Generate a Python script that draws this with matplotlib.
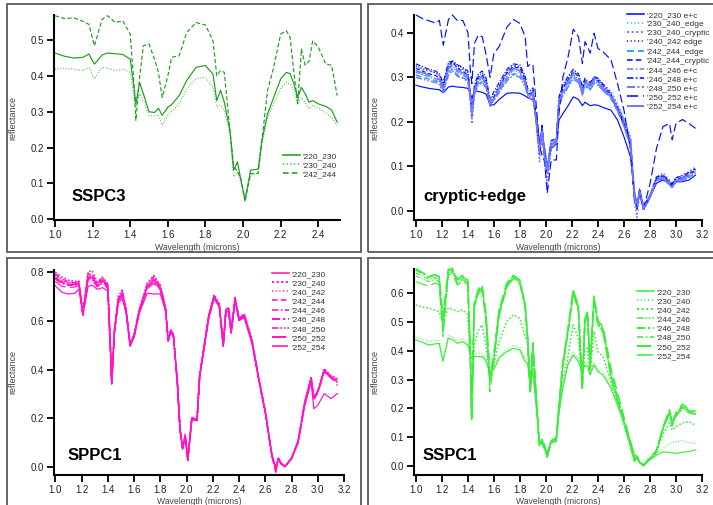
"""
plot.py -- four-panel reflectance spectra (SSPC3, cryptic+edge, SPPC1, SSPC1).
"""

import matplotlib
matplotlib.use("Agg")  # no display
import matplotlib.pyplot as plt
from matplotlib.lines import Line2D
from matplotlib.patches import Rectangle

plt.rcParams["font.family"] = ["Liberation Sans", "DejaVu Sans"]

# ---------------------------------------------------------------------------
# Data
# ---------------------------------------------------------------------------

# wavelength grid for the SSPC3 panel (1.0 - 2.5 microns)
wl_short = [
    1.00, 1.05, 1.10, 1.15, 1.18, 1.21, 1.25, 1.28, 1.32, 1.36,
    1.40, 1.42, 1.43, 1.45, 1.47, 1.50, 1.53, 1.55, 1.57, 1.60,
    1.62, 1.66, 1.70, 1.75, 1.80, 1.84, 1.86, 1.88, 1.90, 1.93,
    1.95, 1.97, 1.99, 2.01, 2.04, 2.08, 2.10, 2.13, 2.16, 2.20,
    2.23, 2.25, 2.27, 2.29, 2.31, 2.33, 2.35, 2.37, 2.40, 2.44,
    2.47, 2.50,
]

sspc3_220_230 = [
    .464, .455, .450, .452, .461, .433, .458, .464, .462, .460,
    .447, .368, .322, .382, .350, .300, .298, .310, .290, .313,
    .320, .345, .387, .424, .429, .405, .331, .360, .327, .248,
    .137, .160, .105, .054, .137, .140, .220, .294, .336, .392,
    .410, .406, .378, .340, .368, .350, .327, .331, .322, .315,
    .305, .271,
]
sspc3_230_240 = [
    .419, .421, .419, .415, .424, .392, .424, .422, .415, .419,
    .410, .340, .313, .350, .330, .290, .288, .292, .262, .290,
    .300, .322, .364, .392, .396, .370, .313, .318, .304, .239,
    .118, .132, .100, .063, .123, .128, .211, .285, .320, .364,
    .382, .378, .360, .322, .340, .325, .308, .318, .310, .296,
    .285, .262,
]
sspc3_242_244 = [
    .568, .560, .562, .552, .544, .484, .558, .568, .549, .554,
    .517, .378, .276, .396, .484, .489, .445, .410, .340, .400,
    .452, .456, .521, .549, .542, .498, .400, .415, .410, .250,
    .146, .135, .110, .049, .128, .128, .220, .360, .419, .517,
    .526, .507, .410, .322, .475, .430, .440, .498, .480, .433,
    .430, .345,
]

# wavelength grid for the three long panels (1.0 - 3.15 microns)
wl_long = [
    1.00, 1.05, 1.10, 1.15, 1.18, 1.21, 1.25, 1.28, 1.32, 1.36,
    1.40, 1.42, 1.43, 1.45, 1.48, 1.51, 1.54, 1.57, 1.60, 1.64,
    1.70, 1.75, 1.80, 1.84, 1.86, 1.88, 1.90, 1.93, 1.95, 1.97,
    1.99, 2.01, 2.04, 2.08, 2.10, 2.13, 2.17, 2.21, 2.25, 2.28,
    2.30, 2.32, 2.34, 2.37, 2.40, 2.44, 2.50, 2.55, 2.60, 2.65,
    2.68, 2.70, 2.72, 2.75, 2.80, 2.85, 2.90, 2.95, 2.97, 3.00,
    3.05, 3.10, 3.15,
]

# --- cryptic+edge ---
ce_220_230 = [
    .282, .278, .275, .273, .272, .265, .278, .280, .278, .277,
    .275, .262, .252, .270, .268, .266, .262, .238, .238, .250,
    .264, .265, .264, .258, .254, .252, .249, .205, .152, .150,
    .140, .099, .140, .150, .204, .218, .236, .256, .250, .236,
    .244, .240, .236, .238, .237, .232, .226, .204, .166, .121,
    .040, .015, .040, .003, .030, .062, .069, .061, .058, .065,
    .065, .069, .080,
]
ce_230_240_edge = [
    .310, .305, .300, .295, .290, .272, .315, .324, .310, .305,
    .296, .255, .230, .268, .290, .296, .280, .242, .252, .270,
    .300, .314, .310, .287, .265, .258, .262, .195, .140, .180,
    .125, .095, .150, .152, .240, .266, .286, .305, .296, .268,
    .286, .281, .277, .291, .287, .273, .256, .228, .195, .150,
    .035, .010, .042, .006, .032, .068, .072, .058, .054, .066,
    .070, .078, .085,
]
ce_230_240_cryptic = [
    .325, .318, .314, .310, .305, .282, .325, .333, .320, .318,
    .305, .240, .195, .265, .298, .304, .288, .232, .250, .278,
    .312, .326, .322, .298, .262, .255, .268, .180, .110, .175,
    .105, .060, .140, .150, .250, .278, .296, .302, .292, .262,
    .285, .282, .285, .298, .295, .285, .268, .240, .205, .160,
    .020, -.015, .040, .000, .028, .075, .085, .068, .060, .075,
    .080, .088, .098,
]
ce_240_242_edge = [
    .325, .320, .316, .310, .304, .283, .330, .338, .325, .320,
    .310, .255, .220, .278, .303, .310, .293, .245, .262, .283,
    .314, .328, .324, .298, .270, .266, .272, .195, .135, .190,
    .122, .090, .155, .160, .252, .278, .298, .315, .305, .275,
    .296, .290, .285, .300, .296, .282, .262, .232, .198, .152,
    .032, .008, .048, .008, .033, .074, .079, .064, .058, .071,
    .075, .084, .092,
]
ce_242_244_edge = [
    .305, .300, .296, .292, .288, .270, .310, .318, .305, .300,
    .292, .255, .228, .265, .285, .290, .278, .245, .250, .268,
    .296, .308, .305, .283, .262, .256, .260, .192, .140, .185,
    .128, .100, .155, .158, .238, .262, .282, .300, .292, .266,
    .282, .278, .274, .288, .284, .270, .252, .224, .192, .150,
    .040, .012, .044, .008, .034, .068, .072, .058, .054, .064,
    .068, .076, .084,
]
ce_242_244_cryptic = [
    .320, .314, .308, .304, .298, .278, .325, .335, .320, .314,
    .304, .250, .212, .272, .300, .305, .290, .238, .256, .278,
    .310, .324, .320, .294, .266, .262, .268, .188, .128, .188,
    .118, .082, .148, .156, .248, .274, .294, .312, .302, .272,
    .292, .287, .282, .297, .292, .278, .258, .228, .192, .146,
    .028, .004, .046, .004, .030, .072, .078, .062, .056, .070,
    .074, .082, .090,
]
ce_244_246 = [
    .312, .306, .302, .297, .292, .272, .316, .326, .312, .306,
    .297, .248, .212, .268, .292, .297, .282, .238, .252, .272,
    .302, .317, .312, .287, .262, .258, .262, .186, .128, .182,
    .118, .082, .146, .152, .242, .266, .286, .306, .296, .258,
    .288, .283, .278, .292, .288, .276, .260, .232, .198, .150,
    .028, .002, .044, .004, .029, .069, .074, .059, .054, .067,
    .071, .079, .087,
]
ce_246_248 = [
    .330, .324, .318, .314, .308, .288, .334, .336, .328, .322,
    .314, .258, .222, .282, .308, .314, .298, .250, .268, .288,
    .318, .330, .328, .302, .274, .270, .276, .198, .138, .192,
    .125, .092, .158, .162, .256, .282, .302, .318, .308, .280,
    .298, .292, .288, .302, .298, .284, .262, .232, .196, .150,
    .034, .010, .050, .010, .035, .076, .080, .066, .060, .074,
    .078, .086, .094,
]
ce_248_250 = [
    .300, .296, .292, .288, .284, .266, .305, .315, .302, .298,
    .290, .252, .225, .262, .282, .288, .276, .242, .248, .266,
    .292, .305, .300, .280, .258, .252, .258, .188, .135, .178,
    .122, .092, .150, .152, .235, .258, .278, .296, .288, .262,
    .280, .276, .272, .286, .282, .270, .258, .235, .205, .165,
    .045, .015, .042, .010, .035, .068, .072, .058, .052, .064,
    .068, .075, .082,
]
ce_250_252 = [
    .440, .432, .427, .422, .428, .372, .430, .440, .427, .428,
    .400, .310, .286, .376, .395, .391, .350, .300, .354, .369,
    .413, .430, .421, .391, .324, .330, .327, .219, .144, .125,
    .110, .039, .114, .114, .219, .300, .346, .408, .391, .331,
    .380, .369, .354, .399, .365, .357, .339, .286, .226, .136,
    .024, .009, .039, .005, .060, .140, .189, .196, .159, .196,
    .205, .196, .185,
]
ce_252_254 = [
    .315, .310, .305, .300, .295, .275, .320, .330, .315, .310,
    .300, .250, .215, .270, .295, .300, .285, .240, .255, .275,
    .305, .320, .315, .290, .265, .260, .265, .190, .130, .185,
    .120, .085, .150, .155, .245, .270, .290, .310, .300, .270,
    .290, .285, .280, .295, .290, .275, .255, .225, .190, .145,
    .030, .005, .045, .005, .030, .070, .075, .060, .055, .068,
    .072, .080, .088,
]

# --- SPPC1 ---
sppc1_220_230 = [
    .743, .716, .709, .712, .730, .620, .740, .745, .728, .735,
    .722, .480, .345, .550, .672, .690, .630, .500, .530, .630,
    .712, .709, .709, .640, .515, .555, .535, .345, .155, .080,
    .125, .035, .195, .190, .370, .470, .610, .690, .655, .495,
    .632, .640, .548, .680, .600, .612, .505, .360, .225, .055,
    .000, .035, .018, .004, .036, .100, .250, .349, .240, .254,
    .302, .281, .302,
]
sppc1_230_240 = [
    .798, .780, .765, .760, .762, .635, .800, .805, .758, .778,
    .750, .490, .345, .560, .700, .725, .648, .505, .545, .648,
    .752, .785, .745, .655, .525, .565, .545, .352, .160, .078,
    .135, .032, .205, .198, .380, .485, .625, .705, .668, .505,
    .648, .655, .558, .695, .612, .628, .520, .368, .232, .052,
    -.010, .040, .018, .003, .038, .108, .265, .370, .285, .315,
    .405, .375, .365,
]
sppc1_240_242 = [
    .785, .765, .752, .752, .755, .625, .780, .772, .748, .765,
    .740, .482, .340, .552, .688, .712, .636, .498, .536, .638,
    .740, .770, .730, .648, .518, .558, .538, .348, .158, .076,
    .128, .030, .198, .192, .374, .478, .618, .698, .660, .498,
    .640, .646, .552, .686, .604, .618, .510, .362, .228, .048,
    -.015, .036, .016, .002, .036, .104, .262, .362, .282, .308,
    .398, .372, .360,
]
sppc1_242_244 = [
    .778, .760, .748, .750, .750, .622, .790, .785, .745, .762,
    .738, .486, .344, .556, .685, .708, .640, .502, .540, .642,
    .738, .765, .735, .650, .520, .560, .540, .350, .160, .079,
    .132, .032, .202, .195, .378, .482, .622, .702, .664, .500,
    .644, .650, .556, .692, .608, .624, .514, .364, .226, .050,
    -.006, .038, .016, .004, .038, .106, .264, .366, .284, .312,
    .400, .368, .358,
]
sppc1_244_246 = [
    .792, .772, .758, .755, .758, .630, .795, .780, .752, .772,
    .745, .484, .340, .552, .690, .718, .642, .500, .538, .640,
    .745, .778, .740, .652, .520, .560, .540, .348, .158, .075,
    .128, .028, .200, .194, .376, .480, .620, .700, .662, .498,
    .642, .648, .552, .688, .606, .620, .512, .362, .226, .048,
    -.012, .036, .014, .002, .036, .104, .262, .364, .280, .306,
    .396, .368, .362,
]
sppc1_246_248 = [
    .770, .752, .745, .745, .748, .624, .775, .770, .742, .760,
    .735, .480, .342, .550, .682, .705, .634, .496, .534, .636,
    .736, .760, .728, .646, .516, .556, .536, .346, .156, .077,
    .126, .030, .198, .192, .372, .476, .616, .696, .658, .496,
    .638, .644, .550, .684, .602, .616, .508, .360, .226, .050,
    -.008, .037, .016, .003, .037, .103, .258, .360, .278, .305,
    .392, .366, .352,
]
sppc1_248_250 = [
    .788, .768, .755, .756, .760, .632, .792, .790, .755, .776,
    .748, .488, .346, .558, .695, .722, .645, .504, .542, .645,
    .748, .782, .742, .654, .522, .562, .542, .350, .160, .078,
    .130, .031, .204, .196, .378, .484, .624, .704, .666, .502,
    .646, .652, .556, .694, .610, .626, .516, .366, .230, .052,
    -.005, .039, .017, .004, .038, .106, .266, .368, .286, .312,
    .400, .374, .345,
]
sppc1_250_252 = [
    .775, .756, .748, .748, .752, .626, .782, .776, .746, .765,
    .740, .484, .342, .554, .686, .710, .638, .500, .538, .640,
    .740, .768, .732, .648, .518, .558, .538, .348, .158, .076,
    .128, .030, .200, .194, .374, .480, .620, .700, .662, .498,
    .640, .646, .552, .688, .606, .620, .512, .362, .228, .050,
    -.020, .036, .015, .003, .036, .104, .262, .364, .282, .310,
    .398, .370, .335,
]
sppc1_252_254 = [
    .760, .740, .735, .738, .745, .622, .770, .765, .738, .755,
    .732, .482, .344, .552, .680, .700, .632, .498, .534, .636,
    .730, .752, .725, .645, .516, .556, .536, .346, .156, .078,
    .128, .032, .198, .192, .372, .476, .616, .696, .658, .496,
    .638, .644, .550, .684, .602, .616, .508, .360, .226, .050,
    -.004, .037, .016, .003, .036, .102, .258, .360, .280, .306,
    .394, .365, .350,
]

# --- SSPC1 ---
sspc1_220_230 = [
    .438, .430, .420, .424, .426, .363, .444, .440, .426, .432,
    .420, .386, .375, .380, .380, .380, .365, .322, .334, .375,
    .397, .409, .403, .363, .355, .281, .328, .189, .085, .078,
    .058, .050, .082, .085, .180, .270, .351, .386, .363, .328,
    .351, .345, .316, .351, .328, .316, .270, .212, .154, .085,
    .040, .032, .014, .003, .021, .038, .050, .047, .046, .044,
    .048, .050, .056,
]
sspc1_230_240 = [
    .449, .440, .432, .436, .436, .370, .452, .450, .436, .442,
    .430, .392, .370, .392, .392, .392, .375, .330, .345, .380,
    .405, .418, .412, .372, .365, .290, .338, .195, .088, .082,
    .062, .048, .085, .090, .185, .280, .360, .395, .372, .335,
    .360, .356, .322, .360, .336, .325, .280, .220, .160, .090,
    .040, .035, .018, .004, .024, .042, .060, .078, .082, .085,
    .088, .082, .079,
]
sspc1_240_242 = [
    .559, .552, .548, .540, .536, .502, .548, .545, .536, .542,
    .525, .360, .177, .420, .470, .490, .420, .316, .351, .430,
    .502, .525, .513, .450, .432, .258, .386, .200, .085, .080,
    .060, .038, .080, .085, .190, .293, .380, .490, .444, .293,
    .400, .409, .316, .467, .397, .380, .293, .220, .142, .068,
    .020, .030, .012, .001, .025, .048, .110, .150, .125, .137,
    .150, .154, .142,
]
sspc1_244_246 = [
    .660, .650, .640, .648, .640, .470, .670, .678, .632, .648,
    .635, .380, .165, .555, .600, .615, .512, .290, .368, .525,
    .625, .655, .636, .556, .440, .255, .415, .208, .072, .088,
    .068, .030, .082, .094, .196, .345, .465, .600, .545, .268,
    .498, .526, .335, .578, .492, .466, .312, .232, .150, .070,
    .018, .030, .013, .000, .026, .050, .128, .186, .140, .175,
    .204, .188, .180,
]
sspc1_246_248 = [
    .680, .668, .656, .662, .655, .505, .678, .683, .645, .658,
    .642, .390, .170, .562, .608, .624, .524, .305, .378, .534,
    .632, .660, .642, .562, .446, .262, .422, .214, .074, .091,
    .071, .033, .086, .097, .202, .354, .472, .608, .552, .272,
    .505, .534, .342, .586, .500, .474, .320, .240, .158, .076,
    .022, .033, .016, .002, .028, .052, .132, .192, .145, .180,
    .210, .192, .186,
]
sspc1_248_250 = [
    .670, .660, .648, .655, .648, .480, .672, .680, .638, .652,
    .638, .384, .164, .556, .604, .618, .516, .296, .372, .528,
    .627, .656, .638, .558, .442, .258, .418, .210, .072, .089,
    .069, .031, .084, .095, .198, .349, .468, .604, .548, .270,
    .500, .529, .337, .581, .494, .468, .314, .234, .152, .072,
    .020, .031, .014, .001, .027, .049, .129, .188, .142, .176,
    .205, .190, .182,
]
sspc1_250_252 = [
    .685, .672, .660, .664, .658, .515, .682, .686, .648, .662,
    .646, .395, .175, .566, .612, .628, .530, .315, .384, .540,
    .635, .662, .646, .565, .450, .266, .428, .218, .076, .092,
    .072, .034, .088, .098, .205, .358, .476, .612, .556, .276,
    .508, .538, .346, .590, .505, .482, .340, .255, .170, .085,
    .025, .035, .018, .003, .030, .054, .135, .195, .150, .185,
    .215, .195, .190,
]
sspc1_252_254 = [
    .640, .632, .625, .635, .630, .450, .660, .672, .628, .642,
    .630, .375, .160, .550, .596, .610, .505, .258, .360, .518,
    .620, .650, .632, .552, .436, .250, .410, .205, .070, .086,
    .066, .028, .080, .092, .194, .340, .460, .596, .540, .265,
    .494, .522, .330, .574, .488, .462, .308, .228, .148, .068,
    .016, .028, .012, .000, .024, .048, .126, .182, .138, .172,
    .200, .185, .178,
]

# ---------------------------------------------------------------------------
# Styles
# ---------------------------------------------------------------------------

DOT = (0, (1, 1.3))
FINEDOT = (0, (0.7, 1.6))
DASH = (0, (3.5, 2))
DASHDOT = (0, (4, 1.5, 1, 1.5))
DASHDOTDOT = (0, (4, 1.2, 1, 1.2, 1, 1.2))
LONGDASH = (0, (7, 3))
VLONGDASH = (0, (10, 4))

GREEN = "#1e9e1e"
BLUE = "#0010ff"
CYAN = "#2fa8ff"
LAV = "#7878ff"
MAGENTA = "#ff12c8"
LIME = "#3cec3c"

THIN, THICK = 0.85, 1.15

W_PX, H_PX = 713, 505
fig = plt.figure(figsize=(W_PX / 100, H_PX / 100), dpi=100)


def px_axes(left, top, right, bottom):
    """Add axes from pixel box (origin top-left)."""
    return fig.add_axes([left / W_PX, 1 - bottom / H_PX,
                         (right - left) / W_PX, (bottom - top) / H_PX])


def style_axes(ax, xlim, ylim, xticks, yticks, ylab_x, xlab_y):
    ax.set_xlim(*xlim)
    ax.set_ylim(*ylim)
    ax.set_xticks(xticks)
    ax.set_yticks(yticks)
    ax.set_xticklabels([f"{t:.1f}" for t in xticks])
    ax.set_yticklabels([f"{t:.1f}" for t in yticks])
    for side in ("top", "right"):
        ax.spines[side].set_visible(False)
    for side in ("left", "bottom"):
        ax.spines[side].set_linewidth(1.5)
    ax.tick_params(direction="out", length=5, width=1.3, labelsize=7,
                   labelcolor="#222222", pad=2)
    ax.patch.set_alpha(0)
    pos = ax.get_position()
    fig.text(pos.x0 + pos.width / 2, 1 - xlab_y / H_PX, "Wavelength (microns)",
             ha="center", va="center", fontsize=6.2, color="#444444")
    fig.text(ylab_x / W_PX, pos.y0 + pos.height / 2, "reflectance",
             rotation=90, ha="center", va="center", fontsize=6.5, color="#444444")


def draw(ax, x, series, labels, styles, legend_xy):
    handles = []
    for y, lab, (col, ls, lw) in zip(series, labels, styles):
        ax.plot(x, y, color=col, linestyle=ls, linewidth=lw, clip_on=False)
        handles.append(Line2D([], [], color=col, linestyle=ls, linewidth=lw + 0.3))
    fig.legend(handles, labels, loc="upper left",
               bbox_to_anchor=(legend_xy[0] / W_PX, 1 - legend_xy[1] / H_PX),
               frameon=False, fontsize=6, handlelength=2.0, handletextpad=0.35,
               labelspacing=0.16, borderpad=0, borderaxespad=0,
               labelcolor="#333333")


def frame(x0, y0, x1, y1):
    fig.add_artist(Rectangle((x0 / W_PX, 1 - y1 / H_PX), (x1 - x0) / W_PX,
                             (y1 - y0) / H_PX, transform=fig.transFigure,
                             fill=False, edgecolor="#5a5a5a", linewidth=1.3))


frame(7, 4, 361, 252)
frame(368, 4, 725, 252)
frame(7, 258, 361, 520)
frame(368, 258, 725, 520)

long_xticks = [1.0, 1.2, 1.4, 1.6, 1.8, 2.0, 2.2, 2.4, 2.6, 2.8, 3.0, 3.2]

# --- SSPC3 (top left) ---
ax1 = px_axes(54, 15, 340, 220)
draw(ax1, wl_short,
     [sspc3_220_230, sspc3_230_240, sspc3_242_244],
     ["'220_230", "'230_240", "'242_244"],
     [(GREEN, "-", THIN), ("#3cb43c", FINEDOT, THIN), (GREEN, DASH, THIN)],
     (283, 152))
style_axes(ax1, (0.995, 2.515), (-0.002, 0.57),
           [1.0, 1.2, 1.4, 1.6, 1.8, 2.0, 2.2, 2.4],
           [0.0, 0.1, 0.2, 0.3, 0.4, 0.5], 13, 247)
fig.text(72 / W_PX, 1 - 201 / H_PX, "SSPC3", fontsize=12, fontweight="bold",
         va="baseline")

# --- cryptic+edge (top right) ---
ax2 = px_axes(414, 15, 702, 220)
draw(ax2, wl_long,
     [ce_220_230, ce_230_240_edge, ce_230_240_cryptic, ce_240_242_edge,
      ce_242_244_edge, ce_242_244_cryptic, ce_244_246, ce_246_248,
      ce_248_250, ce_250_252, ce_252_254],
     ["'220_230 e+c", "'230_240_edge", "'230_240_cryptic", "'240_242 edge",
      "'242_244_edge", "'242_244_cryptic", "'244_246 e+c", "'246_248 e+c",
      "'248_250 e+c", "'250_252 e+c", "'252_254 e+c"],
     [(BLUE, "-", THIN), (CYAN, FINEDOT, THIN), (LAV, DOT, THICK),
      (BLUE, FINEDOT, THIN), (CYAN, DASH, THICK), (BLUE, DASH, THIN),
      (LAV, DASHDOT, THIN), (BLUE, DASHDOT, THIN), (LAV, DASHDOTDOT, THICK),
      (BLUE, LONGDASH, THIN), (LAV, VLONGDASH, THICK)],
     (627, 11))
style_axes(ax2, (0.985, 3.2), (-0.021, 0.44), long_xticks,
           [0.0, 0.1, 0.2, 0.3, 0.4], 375, 247)
fig.text(423 / W_PX, 1 - 201 / H_PX, "cryptic+edge", fontsize=12,
         fontweight="bold", va="baseline")

# --- SPPC1 (bottom left) ---
ax3 = px_axes(54, 270, 344, 475)
draw(ax3, wl_long,
     [sppc1_220_230, sppc1_230_240, sppc1_240_242, sppc1_242_244,
      sppc1_244_246, sppc1_246_248, sppc1_248_250, sppc1_250_252,
      sppc1_252_254],
     ["'220_230", "'230_240", "'240_242", "'242_244", "'244_246",
      "'246_248", "'248_250", "'250_252", "'252_254"],
     [(MAGENTA, "-", THIN), (MAGENTA, DOT, THICK), (MAGENTA, FINEDOT, THIN),
      (MAGENTA, DASH, THIN), (MAGENTA, DASHDOT, THIN), (MAGENTA, DASHDOT, THICK),
      (MAGENTA, DASHDOTDOT, THIN), (MAGENTA, LONGDASH, THICK),
      (MAGENTA, VLONGDASH, THIN)],
     (272, 270))
style_axes(ax3, (0.99, 3.2), (-0.031, 0.807), long_xticks,
           [0.0, 0.2, 0.4, 0.6, 0.8], 13, 502)
fig.text(68 / W_PX, 1 - 460 / H_PX, "SPPC1", fontsize=12, fontweight="bold",
         va="baseline")

# --- SSPC1 (bottom right) ---
ax4 = px_axes(414, 269, 702, 475)
draw(ax4, wl_long,
     [sspc1_220_230, sspc1_230_240, sspc1_240_242, sspc1_244_246,
      sspc1_246_248, sspc1_248_250, sspc1_250_252, sspc1_252_254],
     ["'220_230", "'230_240", "'240_242", "'244_246", "'246_248",
      "'248_250", "'250_252", "'252_254"],
     [(LIME, "-", THIN), (LIME, FINEDOT, THIN), (LIME, DOT, THICK),
      (LIME, DASHDOTDOT, THIN), (LIME, DASHDOT, THICK), (LIME, DASHDOT, THIN),
      (LIME, LONGDASH, THICK), (LIME, VLONGDASH, THIN)],
     (637, 288))
style_axes(ax4, (0.987, 3.2), (-0.031, 0.684), long_xticks,
           [0.0, 0.1, 0.2, 0.3, 0.4, 0.5, 0.6], 375, 502)
fig.text(423 / W_PX, 1 - 460 / H_PX, "SSPC1", fontsize=12, fontweight="bold",
         va="baseline")

fig.savefig("out.png", dpi=100)
